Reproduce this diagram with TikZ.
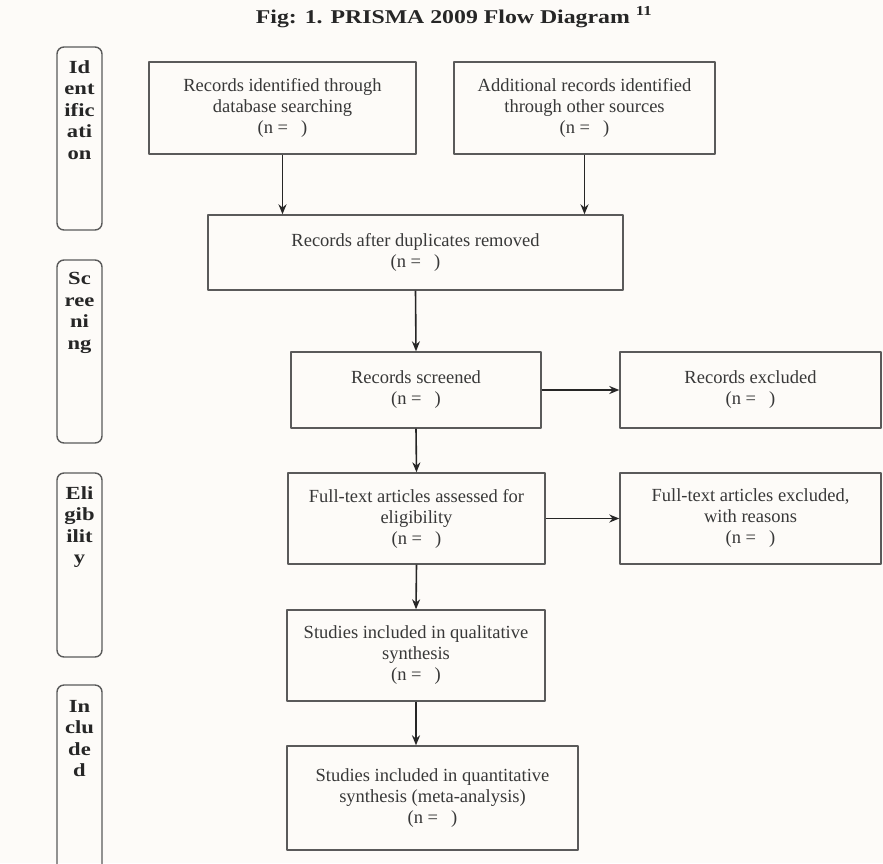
\documentclass[tikz,border=0pt]{standalone}
\usepackage{fontspec}
\setmainfont{Liberation Serif}
\newfontfamily\widefont[FakeStretch=1.22]{Liberation Serif}
\usetikzlibrary{positioning,arrows.meta}
\definecolor{boxgray}{HTML}{5A5A5A}
\definecolor{txtgray}{HTML}{383838}
\definecolor{paper}{HTML}{FDFBF8}
\newcommand{\ncount}{(n =\hspace{13pt})}
\begin{document}
\begin{tikzpicture}[x=1pt,y=-1pt,line join=round,>={Stealth[length=10pt,width=8pt]},
	every node/.style={font=\fontsize{18.5}{21}\selectfont,text=txtgray},
	box/.style={draw=boxgray,line width=1.4pt,align=center,inner sep=0pt},
	phase/.style={draw=boxgray,line width=1.4pt,rounded corners=7pt,minimum width=45pt,inner sep=0pt},
	phasetxt/.style={font=\widefont\bfseries\fontsize{18.5}{21.5}\selectfont,text=black!85,align=center,inner sep=0pt},
	flow/.style={->,line width=1.6pt,draw=black!85}]
	\fill[paper] (0,0) rectangle (883,863);
	\useasboundingbox (0,0) rectangle (883,863);
	\node[font=\widefont\bfseries\fontsize{19.5}{20}\selectfont,text=black!85] (title) at (454,17)
	{Fig: 1. PRISMA 2009 Flow Diagram \textsuperscript{11}};
	% phase panels on the left
	\node[phase,minimum height=183pt] (idf) at (79.5,138.5) {};
	\node[phasetxt,below=14pt of idf.north] (idftxt) {Id\\ent\\ific\\ati\\on};
	\node[phase,minimum height=183pt] (scn) at (79.5,351.5) {};
	\node[phasetxt,below=13pt of scn.north] (scntxt) {Sc\\ree\\ni\\ng};
	\node[phase,minimum height=184pt] (elg) at (79.5,565) {};
	\node[phasetxt,below=14pt of elg.north] (elgtxt) {Eli\\gib\\ilit\\y};
	\begin{scope}
		\clip (0,0) rectangle (883,863);
		\draw[draw=boxgray,line width=1.4pt,rounded corners=7pt]
		(57,880) -- (57,685) -- (102,685) -- (102,880);
	\end{scope}
	\node[phasetxt,anchor=north] (inctxt) at (79.5,700) {In\\clu\\de\\d};
	% flow boxes
	\node[box,minimum width=267pt,minimum height=92pt] (db) at (282.5,108)
	{Records identified through\\database searching\\\ncount};
	\node[box,minimum width=261pt,minimum height=92pt] (other) at (584.5,108)
	{Additional records identified\\through other sources\\\ncount};
	\node[box,minimum width=415pt,minimum height=75pt] (dup) at (415.5,252.5)
	{Records after duplicates removed\\\ncount};
	\node[box,minimum width=250pt,minimum height=76pt] (scr) at (416,390)
	{Records screened\\\ncount};
	\node[box,minimum width=261pt,minimum height=76pt] (exc) at (750.5,390)
	{Records excluded\\\ncount};
	\node[box,minimum width=257pt,minimum height=91pt] (full) at (416.5,518.5)
	{Full-text articles assessed for\\eligibility\\\ncount};
	\node[box,minimum width=261pt,minimum height=91pt] (fexc) at (750.5,518.5)
	{Full-text articles excluded,\\with reasons\\\ncount};
	\node[box,minimum width=258pt,minimum height=91pt] (qual) at (416,655.5)
	{Studies included in qualitative\\synthesis\\\ncount};
	\node[box,minimum width=291pt,minimum height=104pt] (quant) at (432.5,798)
	{Studies included in quantitative\\synthesis (meta-analysis)\\\ncount};
	% connectors
	\draw[flow] (db.south) -- (db.south |- dup.north);
	\draw[flow] (other.south) -- (other.south |- dup.north);
	\draw[flow] (dup.south) -- (scr.north);
	\draw[flow] (scr) -- (exc);
	\draw[flow] (scr.south) -- (full.north);
	\draw[flow] (full) -- (fexc);
	\draw[flow] (full.south) -- (qual.south |- qual.north);
	\draw[flow] (qual.south) -- (qual.south |- quant.north);
\end{tikzpicture}
\end{document}
